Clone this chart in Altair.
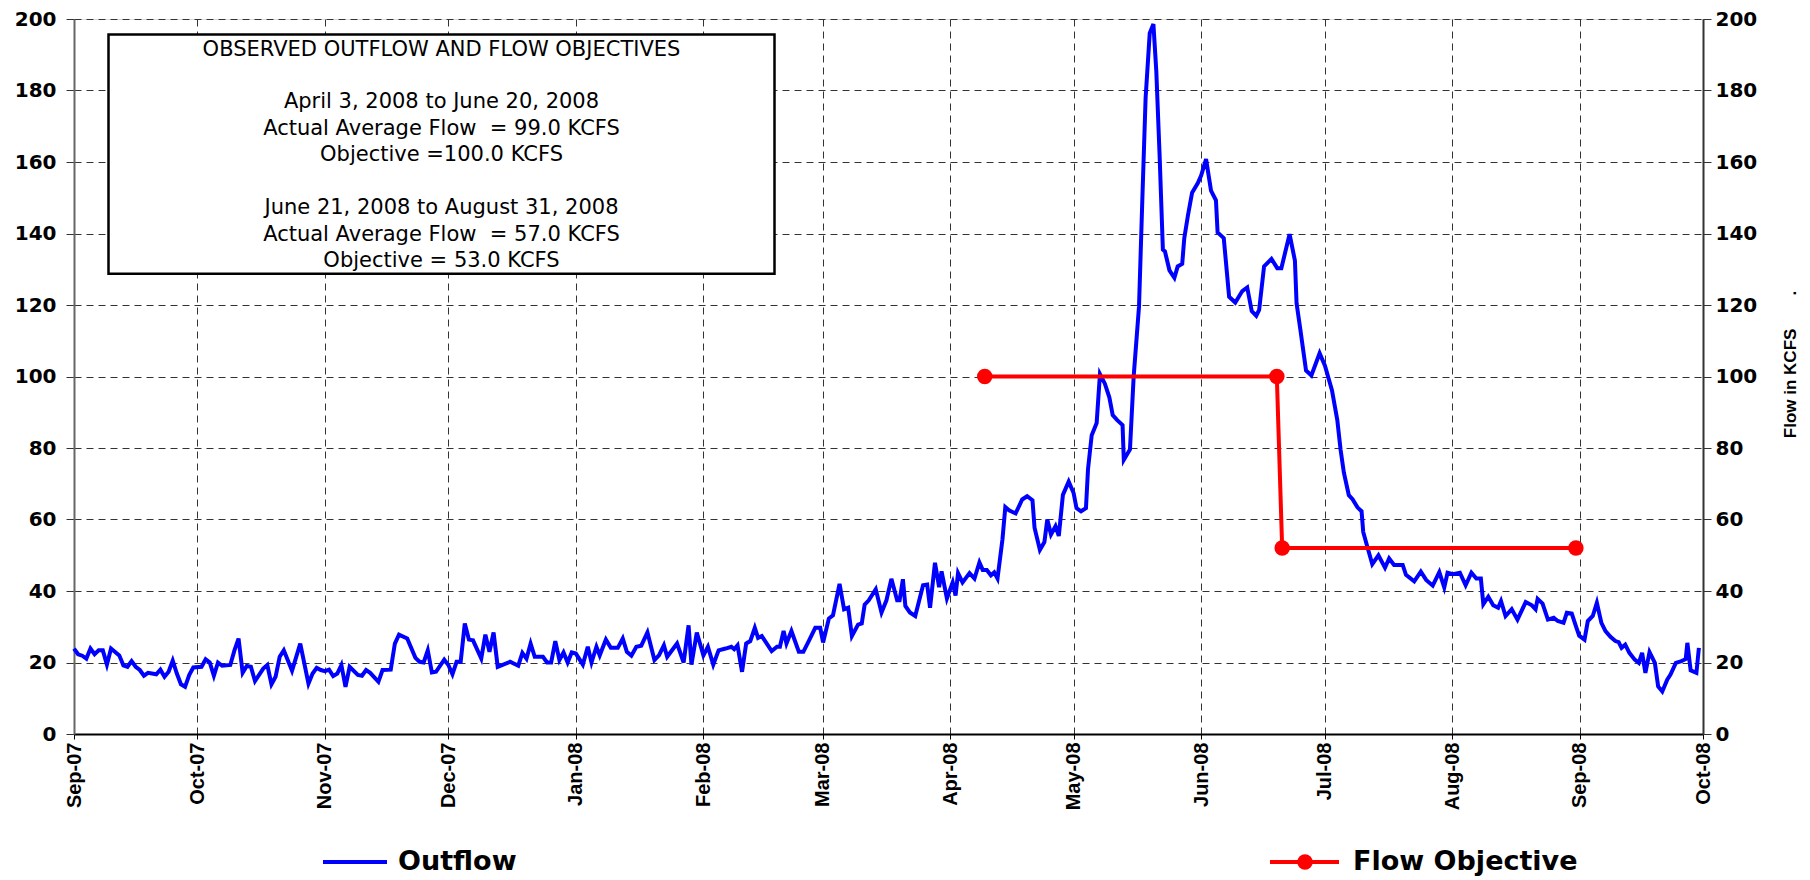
import altair as alt
import pandas as pd

# ---------------- data ----------------
# day offsets counted from 2007-09-01
day_offset = [
    0, 1, 2, 3, 4, 5, 6, 7, 8, 9, 11, 12, 13, 14, 15, 16, 17, 18, 20, 21, 22, 23, 24, 25, 26, 27, 28, 29,
    31, 32, 33, 34, 35, 36, 38, 39, 40, 41, 42, 43, 44, 46, 47, 48, 49, 50, 51, 53, 55, 57, 58, 59, 60,
    61, 62, 63, 64, 65, 66, 67, 69, 70, 71, 72, 74, 75, 77, 78, 79, 81, 83, 84, 85, 86, 87, 88, 90,
    91, 92, 93, 94, 95, 96, 97, 99, 100, 101, 102, 103, 106, 108, 109, 110, 111, 112, 114, 115, 116,
    117, 118, 119, 120, 121, 122,
    123.7, 124.9, 125.8, 127.0, 127.8, 129.3, 130.5, 132.2, 133.4, 134.4, 135.5, 136.7, 137.9, 139.4,
    141.1, 142.2, 143.4, 144.2, 146.6, 148.2, 149.4, 150.1, 151.4, 153.0, 154.1, 155.4, 156.7, 158.4,
    159.8, 160.5, 161.3, 162.4, 163.4, 164.4, 165.5, 166.3, 167.2, 169.6, 170.9, 171.6, 172.5, 173.2,
    174.4, 176.2, 177.3, 178.7, 180.2, 181.4, 182.1, 183.5, 184.5, 186.1, 187.2, 188.2, 189.1, 190.6,
    191.5, 192.2, 193.2, 194.9, 196.3, 197.5, 198.7, 200.1, 200.7, 201.5, 202.1, 203.2, 204.5, 206.4,
    207.4, 208.1, 209.3, 210.3, 210.9, 212.2, 213.6, 214.3, 214.9, 216.0, 217.7, 218.9, 220.1, 220.9,
    221.9, 222.9, 223.7, 224.5, 225.7, 226.4, 227.3, 228.9, 230.5, 231.7, 233.0, 233.5, 234.8, 235.9,
    236.6, 237.5, 238.6, 239.4, 240.4, 241.8, 243.0, 243.7, 244.8, 246.0, 246.5, 247.4, 248.6, 249.4,
    250.6, 251.7, 252.5, 253.6, 254.9, 255.2, 256.7, 257.6, 258.9, 259.7, 260.5, 261.5, 262.4, 263.1,
    263.9, 264.7, 265.2, 266.3, 267.5, 268.3, 269.4, 269.9, 270.8, 271.8, 273.2, 274.0, 275.2, 276.4,
    277.6, 278.0, 279.5, 280.8, 282.3, 284.0, 285.2, 286.3, 287.4, 288.1, 289.3, 291.1, 292.5, 293.5,
    295.5, 296.8, 297.2, 298.1, 299.5, 300.8, 302.8, 304.1, 305.8, 307.1, 307.9, 308.7, 309.9, 310.8,
    312.0, 313.0, 313.4, 314.4, 315.6, 317.1, 318.7, 319.7, 320.9, 323.0, 323.8, 325.8, 327.4, 328.7,
    330.3, 331.9, 333.1, 333.9, 335.2, 336.9, 338.3, 339.7, 340.9, 342.0, 342.6, 343.8, 345.0, 346.2,
    346.9, 348.0, 349.5, 350.9, 352.9, 354.4, 355.3, 355.8, 357.0, 358.3, 359.7, 360.7, 362.1, 362.9,
    364.1, 365.1, 365.9, 367.2, 368.0, 369.2, 370.2, 371.3, 372.3, 373.5, 374.7, 375.5, 376.2, 377.1,
    378.1, 379.4, 380.4, 381.2, 382.0, 383.0, 384.3, 385.1, 386.1, 387.3, 388.1, 389.4, 390.6, 391.8,
    392.2, 393.0, 394.4, 395.0,
]
outflow = [
    23.9, 22.3, 21.9, 21.1, 23.9, 22.3, 23.4, 23.4, 19.4, 23.9, 22.0, 19.2, 18.8, 20.4, 18.8, 17.9, 16.3,
    17.1, 16.7, 18.0, 16.0, 17.4, 20.5, 16.9, 13.9, 13.2, 16.5, 18.6,
    18.8, 20.9, 20.0, 16.3, 20.0, 19.1, 19.3, 23.4, 26.7, 17.1, 19.0, 18.8, 14.8, 18.3, 19.3, 13.9, 16.0,
    21.6, 23.4, 17.7, 25.3, 14.1, 16.9, 18.5, 17.9,
    17.6, 18.0, 16.2, 16.9, 19.3, 13.2, 18.8, 16.5, 16.3, 17.9, 17.1, 14.6, 17.9, 18.0, 25.3, 27.8, 26.7,
    21.3, 20.2, 20.0, 23.4, 17.2, 17.4, 20.8,
    19.3, 16.7, 20.2, 20.2, 30.9, 26.4, 26.2, 21.1, 27.8, 23.0, 28.4, 18.8, 20.2, 19.1, 22.7, 21.1, 25.3,
    21.6, 21.6, 20.0, 20.0, 26.0, 20.7, 22.8, 20.0, 22.8, 22.5,
    19.4, 24.4, 20.0, 24.4, 22.0, 26.4, 24.1, 24.1, 26.7, 23.0, 21.9, 24.4, 24.7, 28.4,
    20.7, 22.0, 24.8, 21.6, 25.3, 20.0, 30.4, 19.4, 28.4, 22.0, 24.4, 19.4, 23.4, 23.9,
    24.4, 23.7, 24.8, 17.4, 25.3, 26.0, 29.7, 26.9, 27.4, 23.2, 24.4, 24.4, 28.8, 25.3,
    28.8, 23.0, 23.0, 26.2, 29.7, 29.7, 25.6, 32.3, 33.2, 42.0, 34.9, 35.3, 27.4, 30.6,
    30.9, 36.2, 37.4, 40.5, 34.0, 37.4, 43.4, 37.4, 37.4, 43.3, 35.8, 34.0, 33.0, 41.6,
    41.8, 35.3, 47.9, 41.1, 45.5, 37.9, 42.4, 38.7, 45.0, 42.4, 45.0, 43.5, 48.0, 45.9,
    45.9, 44.4, 45.2, 43.5, 54.4, 63.5, 62.6, 61.7, 65.6, 66.5, 65.4, 57.7, 51.5, 53.7,
    60.0, 55.8, 58.1, 55.4, 66.9, 70.6, 67.4, 63.2, 62.3, 63.2, 74.1, 83.6, 87.0, 100.7,
    98.0, 94.1, 89.2, 87.8, 86.4, 76.7, 79.6, 100.0, 119.6, 149.3, 177.9, 196.0, 198.6, 185.4,
    162.0, 135.5, 135.0, 129.7, 127.6, 130.8, 131.5, 138.7, 145.1, 151.4, 154.1, 156.2, 160.8, 152.0,
    149.3, 140.3, 138.7, 122.3, 120.7, 123.9, 124.9, 118.3, 117.0, 118.6, 130.8, 132.9, 130.3, 130.3,
    139.8, 132.4, 120.5, 113.3, 101.7, 100.3, 106.5, 103.0, 96.2, 87.8, 79.5, 73.1, 66.8, 65.7,
    63.4, 62.3, 56.5, 52.4, 47.5, 50.0, 46.5, 49.1, 47.3, 47.3, 44.5, 42.7, 45.4, 43.1,
    41.5, 45.3, 41.0, 45.1, 44.7, 45.1, 41.6, 45.1, 43.5, 43.5, 36.3, 38.4, 36.0, 35.3,
    37.2, 33.0, 34.9, 32.0, 36.9, 36.0, 34.9, 37.8, 36.5, 32.0, 32.5, 31.6, 31.1, 33.9,
    33.7, 30.2, 27.5, 26.4, 31.6, 33.0, 36.7, 31.1, 28.8, 27.2, 26.0, 25.7, 24.1, 25.0,
    22.7, 20.8, 19.9, 22.7, 17.1, 22.9, 19.9, 13.3, 11.9, 15.2, 16.6, 19.9, 20.3, 21.0,
    25.5, 17.8, 17.1, 24.1,
]

objective_day_offset = [221.4, 292.4, 293.7, 365.1]
objective_value = [100, 100, 52, 52]

NB = "\u00a0"
box_title = "OBSERVED OUTFLOW AND FLOW OBJECTIVES"
box_block1 = [
    "April 3, 2008 to June 20, 2008",
    "Actual Average Flow" + NB + NB + "= 99.0 KCFS",
    "Objective =100.0 KCFS",
]
box_block2 = [
    "June 21, 2008 to August 31, 2008",
    "Actual Average Flow" + NB + NB + "= 57.0 KCFS",
    "Objective = 53.0 KCFS",
]
right_title = "Flow in KCFS" + NB * 7 + "."
legend_names = ["Outflow", "Flow Objective"]
y_ticks = list(range(0, 201, 20))
month_ticks = [(2007, m) for m in range(9, 13)] + [(2008, m) for m in range(1, 11)]

# ---------------- tables ----------------
base = pd.Timestamp("2007-09-01")
df_out = pd.DataFrame({
    "date": base + pd.to_timedelta(day_offset, unit="D"),
    "outflow": outflow,
})
df_obj = pd.DataFrame({
    "date": base + pd.to_timedelta(objective_day_offset, unit="D"),
    "objective": objective_value,
})
one = pd.DataFrame({"k": [0]})

TOP = 11
W, H = 1629, 734 - 8 - TOP
BLUE, RED = "#0000FF", "#FF0000"
NUM_FONT = "DejaVu Sans"
LBL_FONT = "Liberation Sans"
OY = -8 - TOP  # page y -> plot-relative y

x_scale = alt.Scale(
    domain=[alt.DateTime(year=2007, month=9, date=1), alt.DateTime(year=2008, month=10, date=1)],
    nice=False,
)
x_axis = alt.Axis(
    values=[alt.DateTime(year=y, month=m, date=1) for y, m in month_ticks],
    format="%b-%y", labelAngle=270, labelAlign="right", labelBaseline="middle",
    labelFont=LBL_FONT, labelFontWeight="bold", labelFontSize=20, labelColor="black",
    labelPadding=3, labelOverlap=False, labelFlush=False,
    tickSize=5, tickColor="black", tickWidth=1,
    domainColor="black", domainWidth=2,
    grid=True, gridDash=[7, 5], gridColor="#333333", gridWidth=1, title=None,
)
y_scale = alt.Scale(domain=[0, 200], nice=False)

left_axis = alt.Axis(
    orient="left", values=y_ticks, labelFont=NUM_FONT, labelFontWeight="bold",
    labelFontSize=20, labelColor="black", labelPadding=10, tickSize=8, tickColor="#333333",
    domainColor="#666666", domainWidth=2,
    grid=True, gridDash=[7, 5], gridColor="#333333", gridWidth=1, title=None,
)
right_axis = alt.Axis(
    orient="right", values=y_ticks, labelFont=NUM_FONT, labelFontWeight="bold",
    labelFontSize=20, labelColor="black", labelPadding=4, tickSize=8, tickColor="#333333",
    domainColor="#333333", domainWidth=2, grid=False,
    title=right_title, titleFont=LBL_FONT, titleFontWeight="bold", titleFontSize=17,
    titleColor="black", titleAngle=270, titleX=87, titleY=364 + OY, titleAlign="center",
    titleBaseline="middle",
)

outflow_line = alt.Chart(df_out).mark_line(color=BLUE, strokeWidth=4).encode(
    x=alt.X("date:T", scale=x_scale, axis=x_axis),
    y=alt.Y("outflow:Q", scale=y_scale, axis=left_axis),
)

objective_line = alt.Chart(df_obj).mark_line(
    color=RED, strokeWidth=4,
    point=alt.OverlayMarkDef(color=RED, filled=True, size=240, opacity=1),
).encode(
    x=alt.X("date:T", scale=x_scale),
    y=alt.Y("objective:Q", scale=y_scale, axis=right_axis),
)

# ---- annotation box (page positions converted to plot-relative) ----
LH = 26.55
box = alt.Chart(one).mark_rect(fill="white", stroke="black", strokeWidth=2.5).encode(
    x=alt.value(34.5), x2=alt.value(700.5), y=alt.value(34.6 + OY), y2=alt.value(273.7 + OY)
)
box_t = alt.Chart(one).mark_text(
    font=NUM_FONT, fontSize=21, color="black", align="center", baseline="middle"
).encode(x=alt.value(367.5), y=alt.value(49.6 + OY), text=alt.value(box_title))
box_b1 = alt.Chart(one).mark_text(
    font=NUM_FONT, fontSize=21, color="black", align="center", baseline="alphabetic",
    lineHeight=LH,
).encode(x=alt.value(367.5), y=alt.value(108.0 + OY), text=alt.value(box_block1))
box_b2 = alt.Chart(one).mark_text(
    font=NUM_FONT, fontSize=21, color="black", align="center", baseline="alphabetic",
    lineHeight=LH,
).encode(x=alt.value(367.5), y=alt.value(108.0 + 4 * LH + OY), text=alt.value(box_block2))

# ---- legend ----
LY = 862 + OY
leg_out_line = alt.Chart(one).mark_rule(color=BLUE, strokeWidth=4).encode(
    x=alt.value(249), x2=alt.value(313), y=alt.value(LY)
)
leg_out_text = alt.Chart(one).mark_text(
    font=NUM_FONT, fontWeight="bold", fontSize=27, color="black", align="left", baseline="middle"
).encode(x=alt.value(324), y=alt.value(LY), text=alt.value(legend_names[0]))
leg_obj_line = alt.Chart(one).mark_rule(color=RED, strokeWidth=4).encode(
    x=alt.value(1196), x2=alt.value(1265), y=alt.value(LY)
)
leg_obj_dot = alt.Chart(one).mark_point(
    color=RED, filled=True, size=240, opacity=1, shape="circle"
).encode(x=alt.value(1231), y=alt.value(LY))
leg_obj_text = alt.Chart(one).mark_text(
    font=NUM_FONT, fontWeight="bold", fontSize=27, color="black", align="left", baseline="middle"
).encode(x=alt.value(1279), y=alt.value(LY), text=alt.value(legend_names[1]))

chart = alt.layer(
    outflow_line, objective_line, box, box_t, box_b1, box_b2,
    leg_out_line, leg_out_text, leg_obj_line, leg_obj_dot, leg_obj_text,
).resolve_scale(y="independent").properties(
    width=W, height=H,
    autosize=alt.AutoSizeParams(type="none"),
    padding={"left": 66, "top": TOP, "right": 98, "bottom": 146},
).configure_view(stroke="#999999", strokeWidth=1.5).configure(background="white")

chart.save("out.html", embed_options={"renderer": "svg", "actions": False})
